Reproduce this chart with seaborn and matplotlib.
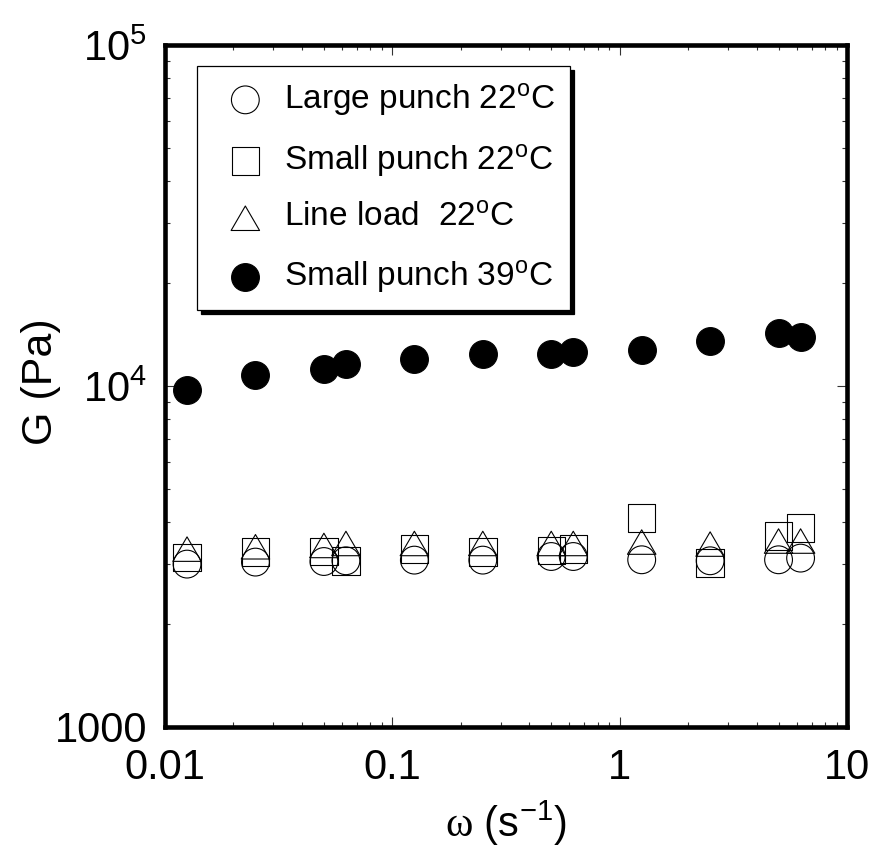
import numpy as np
import pandas as pd
import matplotlib
matplotlib.use("Agg")
import matplotlib.pyplot as plt
from matplotlib.path import Path
from matplotlib.ticker import FixedLocator, FixedFormatter, LogLocator, NullFormatter
import seaborn as sns

# ---------------- data ----------------
omega = [0.0125, 0.025, 0.05, 0.0625, 0.125, 0.25, 0.5, 0.625, 1.25, 2.5, 5, 6.25]
large_punch_22 = [3004, 3045, 3057, 3072, 3086, 3086, 3162, 3162, 3093, 3072, 3093, 3128]
small_punch_22 = [3141, 3258, 3271, 3072, 3331, 3258, 3293, 3331, 4100, 3024, 3637, 3831]
line_load_22 = [3324, 3377, 3407, 3453, 3453, 3453, 3453, 3453, 3486, 3439, 3510, 3510]
small_punch_39 = [9707, 10795, 11217, 11604, 12000, 12414, 12414, 12550, 12780, 13516, 14303, 13884]

labels = ["Large punch 22$^{\\mathrm{o}}$C",
          "Small punch 22$^{\\mathrm{o}}$C",
          "Line load  22$^{\\mathrm{o}}$C",
          "Small punch 39$^{\\mathrm{o}}$C"]

x_ticks = [0.01, 0.1, 1, 10]
x_ticklabels = ["0.01", "0.1", "1", "10"]
y_ticks = [1000, 1e4, 1e5]
y_ticklabels = ["1000", "$10^{4}$", "$10^{5}$"]

# ---------------- style ----------------
sns.set_style("ticks")
plt.rcParams["font.family"] = ["Liberation Sans", "DejaVu Sans"]
plt.rcParams["mathtext.fontset"] = "custom"
plt.rcParams["mathtext.rm"] = "Liberation Sans"
plt.rcParams["mathtext.it"] = "Liberation Sans:italic"
plt.rcParams["mathtext.bf"] = "Liberation Sans:bold"
plt.rcParams["mathtext.sf"] = "Liberation Serif"
plt.rcParams["mathtext.default"] = "rm"
for key in ["text.color", "axes.labelcolor", "xtick.color", "ytick.color"]:
    plt.rcParams[key] = "black"

fig = plt.figure(figsize=(8.78, 8.52), dpi=100)
ax = fig.add_axes([165 / 878, 1 - 727 / 852, 682 / 878, 682 / 852])

tri = Path([(-1, -0.86), (1, -0.86), (0, 0.86), (-1, -0.86)],
           [Path.MOVETO, Path.LINETO, Path.LINETO, Path.CLOSEPOLY])
series = [
    (large_punch_22, "o", "none", 400),
    (small_punch_22, "s", "none", 390),
    (line_load_22, tri, "none", 420),
    (small_punch_39, "o", "black", 400),
]
for (vals, mk, fc, s), lab in zip(series, labels):
    df = pd.DataFrame({"omega": omega, "G": vals})
    sns.scatterplot(data=df, x="omega", y="G", marker=mk, s=s,
                    facecolor=fc, edgecolor="black", linewidth=0.8,
                    label=lab, ax=ax, zorder=3)

ax.set_xscale("log")
ax.set_yscale("log")
ax.set_xlim(0.01, 10)
ax.set_ylim(1000, 1e5)

ax.xaxis.set_major_locator(FixedLocator(x_ticks))
ax.xaxis.set_major_formatter(FixedFormatter(x_ticklabels))
ax.yaxis.set_major_locator(FixedLocator(y_ticks))
ax.yaxis.set_major_formatter(FixedFormatter(y_ticklabels))
ax.xaxis.set_minor_locator(LogLocator(base=10, subs=np.arange(2, 10)))
ax.yaxis.set_minor_locator(LogLocator(base=10, subs=np.arange(2, 10)))
ax.xaxis.set_minor_formatter(NullFormatter())
ax.yaxis.set_minor_formatter(NullFormatter())

ax.tick_params(which="both", direction="in", top=True, right=True,
               color="#333333", width=0.8, labelcolor="black")
ax.tick_params(which="major", length=7, labelsize=30)
ax.tick_params(which="minor", length=3.5)
ax.tick_params(axis="x", which="major", pad=15)
ax.tick_params(axis="y", which="major", pad=13)

for sp in ax.spines.values():
    sp.set_linewidth(3.3)
    sp.set_color("black")

ax.set_xlabel("$\\mathsf{\\omega}$ (s$^{-1}$)", fontsize=30, labelpad=8)
ax.set_ylabel("G (Pa)", fontsize=31)
ax.yaxis.set_label_coords(-0.152, 0.506)

leg = ax.legend(loc="upper left", bbox_to_anchor=(197 / 878, 1 - 66 / 852),
                bbox_transform=fig.transFigure, borderaxespad=0,
                fontsize=24, frameon=True, fancybox=False, framealpha=1,
                edgecolor="black", borderpad=0.45, labelspacing=0.72,
                handlelength=2.0, handletextpad=0.15,
                shadow={"color": "black", "alpha": 1, "ox": 3, "oy": -3})
leg.get_frame().set_linewidth(0.9)

fig.savefig("out.png", dpi=100)
